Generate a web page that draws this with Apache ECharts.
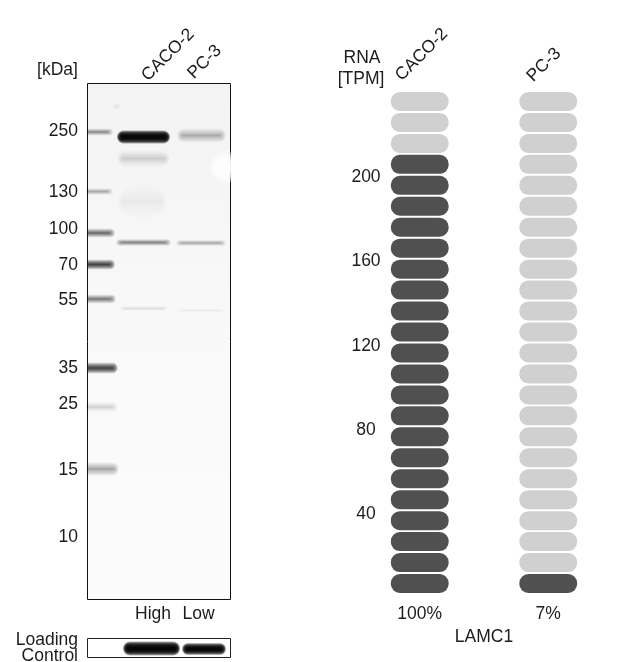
<!DOCTYPE html>
<html><head><meta charset="utf-8">
<style>html,body{margin:0;padding:0;background:#fff}#c{width:640px;height:662px}</style>
<script src="https://cdn.jsdelivr.net/npm/echarts@6/dist/echarts.min.js"></script>
</head><body><div id="c"></div>
<script>
// ---- data ----
const lanes = ['CACO-2', 'PC-3'];
const laneLevels = ['High', 'Low'];
const kdaLabels = [250, 130, 100, 70, 55, 35, 25, 15, 10];
const kdaMigration = [48, 109, 146, 182, 217, 285, 321, 387, 454];
// bands: [left, right, migration, thickness, darkness]
const ladderBands = [
  [-6, 24, 48.5, 3, 0.42], [-6, 24, 108, 3, 0.28], [-6, 26, 149.5, 4, 0.58], [-6, 26, 181, 4.5, 0.76],
  [-6, 27, 215.5, 4, 0.52], [-6, 29, 284.5, 5, 0.78], [-6, 29, 323.5, 4.5, 0.17], [-6, 30, 385.5, 6.5, 0.36]
];
const cacoBands = [
  [31, 81, 53.5, 6, 0.995], [31, 81, 75, 8, 0.17], [31, 79, 118, 17, 0.07], [30, 82, 159, 3, 0.42], [33, 79, 225, 2, 0.08]
];
const pc3Bands = [
  [91, 137, 52, 6.5, 0.32], [90, 137, 159.5, 2.5, 0.27], [91, 136, 227, 2, 0.06]
];
const speckBands = [[26, 32, 23, 3, 0.08]];
const blotWhiteSpot = [[124, 158, 83.5, 15, 0.98]];
const loadingBands = [[37, 91, 10, 6.5, 0.995], [96, 137, 10.5, 5.5, 0.99]];
const rnaSamples = ['CACO-2', 'PC-3'];
const rnaPercent = ['100%', '7%'];
const rnaDarkRungs = [21, 1];
const rungTPM = [10,20,30,40,50,60,70,80,90,100,110,120,130,140,150,160,170,180,190,200,210,220,230,240];
const tpmTicks = [40, 80, 120, 160, 200];

const FONT = '"Liberation Sans", Arial, sans-serif';
const INK = '#1c1c1c';
const FS = 17.5;

function bandItem(colour) {
  return function (params, api) {
    const l = api.value(0), r = api.value(1), m = api.value(2), t = api.value(3), d = api.value(4);
    const a = api.coord([l, m]), b = api.coord([r, m]);
    const h = Math.abs(api.size([0, t])[1]);
    const n = 14, alpha = 1 - Math.pow(1 - d, 1 / n), children = [];
    for (let k = 0; k < n; k++) {
      const f = k / (n - 1);
      const hh = h * Math.pow(1 - f, 1.3) + 0.4;
      const ins = 6 * f;
      children.push({
        type: 'rect',
        shape: { x: a[0] + ins - 1.5, y: a[1] - hh, width: Math.max(b[0] - a[0] - 2 * ins + 3, 1), height: hh * 2, r: hh },
        style: { fill: colour, opacity: alpha }
      });
    }
    return { type: 'group', children };
  };
}
function bandSeries(data, xi, yi, colour, name) {
  return { type: 'custom', name, xAxisIndex: xi, yAxisIndex: yi, clip: true, silent: true,
    renderItem: bandItem(colour), data, encode: { x: [0, 1], y: 2 }, animation: false };
}
const pillData = [];
rnaSamples.forEach((s, i) => rungTPM.forEach((v, j) => pillData.push([i, j, j < rnaDarkRungs[i] ? 1 : 0])));

const text = (t, x, y, align, rot) => ({
  type: 'text', x, y, rotation: rot || 0, silent: true,
  style: { text: t, fill: INK, font: FS + 'px ' + FONT, textAlign: align || 'center', textVerticalAlign: 'middle' }
});
const R = Math.PI / 4;

const chart = echarts.init(document.getElementById('c'), null, { renderer: 'canvas' });
chart.setOption({
  animation: false,
  backgroundColor: '#fff',
  grid: [
    { left: 87.5, top: 83.5, width: 143, height: 516, show: true, borderColor: '#111', borderWidth: 1,
      backgroundColor: { type: 'linear', x: 0, y: 0, x2: 0, y2: 1, colorStops: [
        { offset: 0, color: '#f3f3f3' }, { offset: 0.4, color: '#f8f8f8' }, { offset: 1, color: '#fcfcfc' }] } },
    { left: 87.5, top: 638.5, width: 143, height: 19, show: true, borderColor: '#222', borderWidth: 1, backgroundColor: '#fff' },
    { left: 355.5, top: 91, width: 257, height: 503 },
    { left: 385, top: 93, width: 10, height: 505.4 }
  ],
  xAxis: [
    { gridIndex: 0, type: 'value', min: 0, max: 143, show: false },
    { gridIndex: 1, type: 'value', min: 0, max: 143, show: false },
    { gridIndex: 2, type: 'category', data: rnaSamples, position: 'bottom',
      axisLine: { show: false }, axisTick: { show: false },
      axisLabel: { margin: 11, fontSize: FS, fontFamily: FONT, color: INK,
        formatter: (v, i) => rnaPercent[i] },
      name: 'LAMC1', nameLocation: 'middle', nameGap: 34,
      nameTextStyle: { fontSize: FS, fontFamily: FONT, color: INK } },
    { gridIndex: 3, type: 'value', min: 0, max: 1, show: false }
  ],
  yAxis: [
    { gridIndex: 0, type: 'value', min: 0, max: 516, inverse: true, splitLine: { show: false },
      axisLine: { show: false }, axisTick: { show: false },
      axisLabel: { customValues: kdaMigration, margin: 9.5, align: 'right', fontSize: FS, fontFamily: FONT, color: INK,
        formatter: v => String(kdaLabels[kdaMigration.indexOf(v)]) } },
    { gridIndex: 1, type: 'value', min: 0, max: 19, inverse: true, show: false },
    { gridIndex: 2, type: 'category', data: rungTPM.map(String), show: false },
    { gridIndex: 3, type: 'value', min: 0, max: 240, splitLine: { show: false },
      axisLine: { show: false }, axisTick: { show: false },
      axisLabel: { customValues: tpmTicks, margin: 19, align: 'center', fontSize: FS, fontFamily: FONT, color: INK } }
  ],
  series: [
    bandSeries(blotWhiteSpot, 0, 0, '#ffffff', 'spot'),
    bandSeries(ladderBands, 0, 0, '#141414', 'ladder'),
    bandSeries(cacoBands, 0, 0, '#0a0a0a', 'CACO-2'),
    bandSeries(pc3Bands, 0, 0, '#141414', 'PC-3'),
    bandSeries(speckBands, 0, 0, '#333333', 'speck'),
    bandSeries(loadingBands, 1, 1, '#050505', 'Loading Control'),
    { type: 'custom', name: 'RNA', xAxisIndex: 2, yAxisIndex: 2, silent: true, animation: false,
      data: pillData, encode: { x: 0, y: 1 },
      renderItem(params, api) {
        const c = api.coord([api.value(0), api.value(1)]);
        const s = api.size([1, 1]);
        const w = s[0] * 0.45, h = s[1] * 0.905;
        return { type: 'rect', shape: { x: c[0] - w / 2, y: c[1] - h / 2, width: w, height: h, r: 9 },
          style: { fill: api.value(2) ? '#505050' : '#d0d0d0' } };
      } }
  ],
  graphic: [
    text('[kDa]', 57.5, 70),
    text(lanes[0], 168, 55, 'center', R),
    text(lanes[1], 204.7, 62, 'center', R),
    text(laneLevels[0], 153, 614),
    text(laneLevels[1], 198.5, 614),
    text('Loading', 78, 640, 'right'),
    text('Control', 78, 656, 'right'),
    text('RNA', 362, 58),
    text('[TPM]', 361, 79),
    text(rnaSamples[0], 421.7, 54.6, 'center', R),
    text(rnaSamples[1], 544, 65, 'center', R)
  ]
});
</script></body></html>
